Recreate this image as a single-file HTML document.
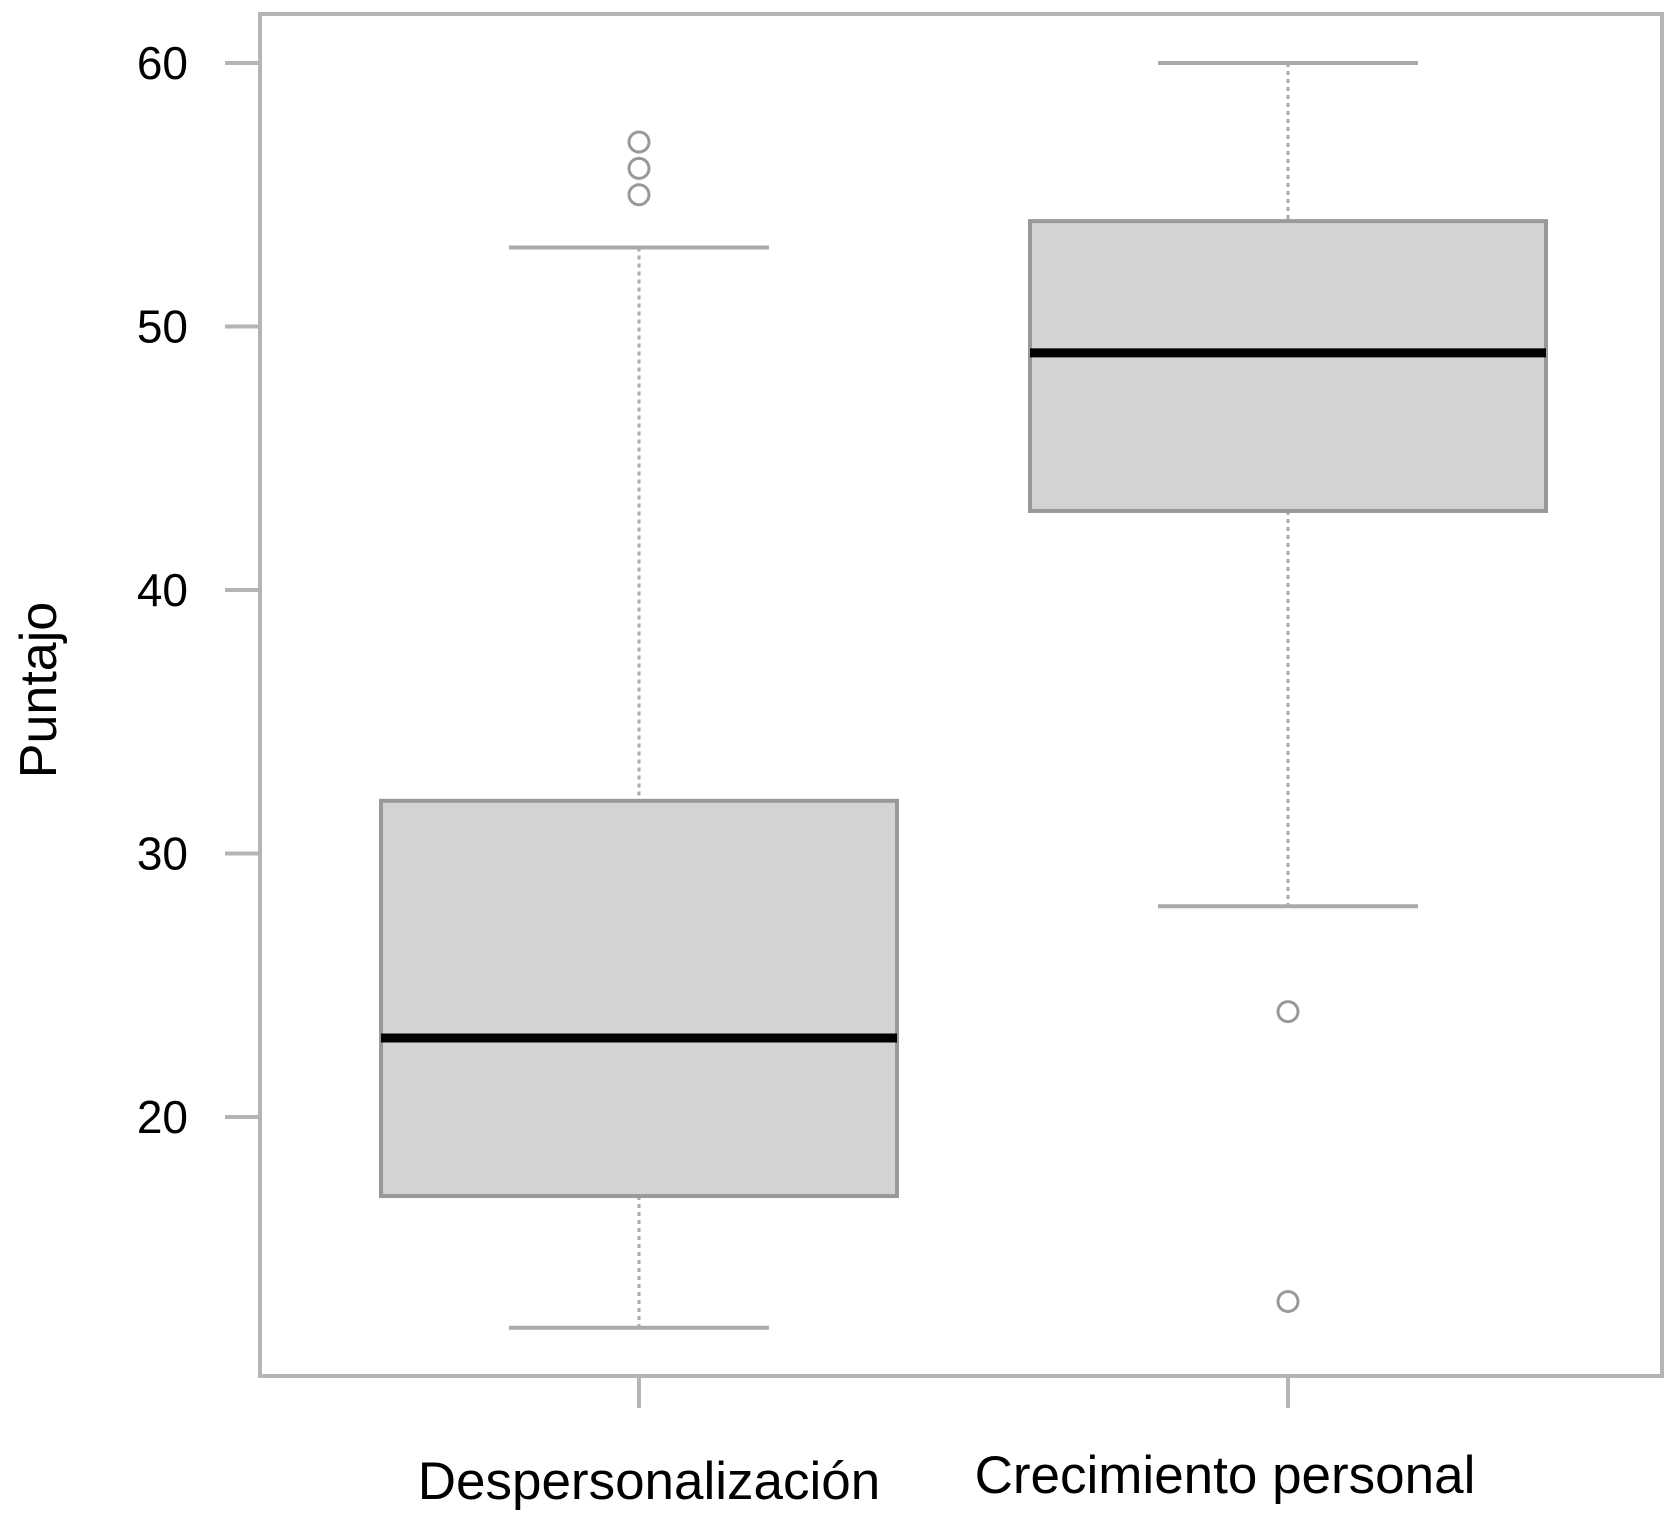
<!DOCTYPE html>
<html><head><meta charset="utf-8"><style>
body{margin:0;background:#fff}
text{font-family:"Liberation Sans",Arial,sans-serif;fill:#000}
</style></head><body>
<svg id="chart" width="1675" height="1517" xmlns="http://www.w3.org/2000/svg"></svg>
<script>
const categories=["Despersonalización","Crecimiento personal"];
const whiskerLow=[12,28];
const q1=[17,43];
const median=[23,49];
const q3=[32,54];
const whiskerHigh=[53,60];
const outliers=[[55,56,57],[24,13]];
const yTicks=[20,30,40,50,60];
const NS="http://www.w3.org/2000/svg";
const svg=document.getElementById('chart');
function y(v){return 63+(60-v)*26.35;}
const xCenters=[639,1288];
function x(i){return xCenters[i];}
const boxHalf=258, capHalf=130;
function el(tag,attrs,parent){const e=document.createElementNS(NS,tag);for(const k in attrs)e.setAttribute(k,attrs[k]);(parent||svg).appendChild(e);return e;}
const frame=el('rect',{x:260,y:14,width:1402,height:1362,fill:'none',stroke:'#b5b5b5','stroke-width':4});


yTicks.forEach(t=>{
  const tk=el('line',{x1:225,x2:260,y1:y(t),y2:y(t),stroke:'#b5b5b5','stroke-width':4});
  
  
  const lb=el('text',{x:188,y:y(t)+16,'text-anchor':'end','font-size':46});
  lb.textContent=t;
  
  
});
const yt=el('text',{x:0,y:0,'text-anchor':'middle','font-size':52,transform:'translate(56,690) rotate(-90)'});
yt.textContent='Puntajo';


categories.forEach((c,i)=>{
  const cx=x(i);
  const g=el('g',{});
  
  
  el('line',{x1:cx,x2:cx,y1:y(whiskerHigh[i]),y2:y(q3[i]),stroke:'#aaa','stroke-width':3,'stroke-dasharray':'4 4'},g);
  el('line',{x1:cx,x2:cx,y1:y(q1[i]),y2:y(whiskerLow[i]),stroke:'#aaa','stroke-width':3,'stroke-dasharray':'4 4'},g);
  el('line',{x1:cx-capHalf,x2:cx+capHalf,y1:y(whiskerHigh[i]),y2:y(whiskerHigh[i]),stroke:'#aaa','stroke-width':4},g);
  el('line',{x1:cx-capHalf,x2:cx+capHalf,y1:y(whiskerLow[i]),y2:y(whiskerLow[i]),stroke:'#aaa','stroke-width':4},g);
  el('rect',{x:cx-boxHalf,y:y(q3[i]),width:boxHalf*2,height:y(q1[i])-y(q3[i]),fill:'#d3d3d3',stroke:'#999','stroke-width':4},g);
  el('line',{x1:cx-boxHalf,x2:cx+boxHalf,y1:y(median[i]),y2:y(median[i]),stroke:'#000','stroke-width':9},g);
  outliers[i].forEach(o=>{
    const p=el('circle',{cx:cx,cy:y(o),r:10,fill:'none',stroke:'#999','stroke-width':3},g);
    
    
  });
  const tk=el('line',{x1:cx,x2:cx,y1:1376,y2:1408,stroke:'#b5b5b5','stroke-width':4});
  
  
  const lb=el('text',{x:cx+(i?-63:10),y:i?1493:1499,'text-anchor':'middle','font-size':53});
  lb.textContent=c;
  
  
});
</script>
</body></html>
